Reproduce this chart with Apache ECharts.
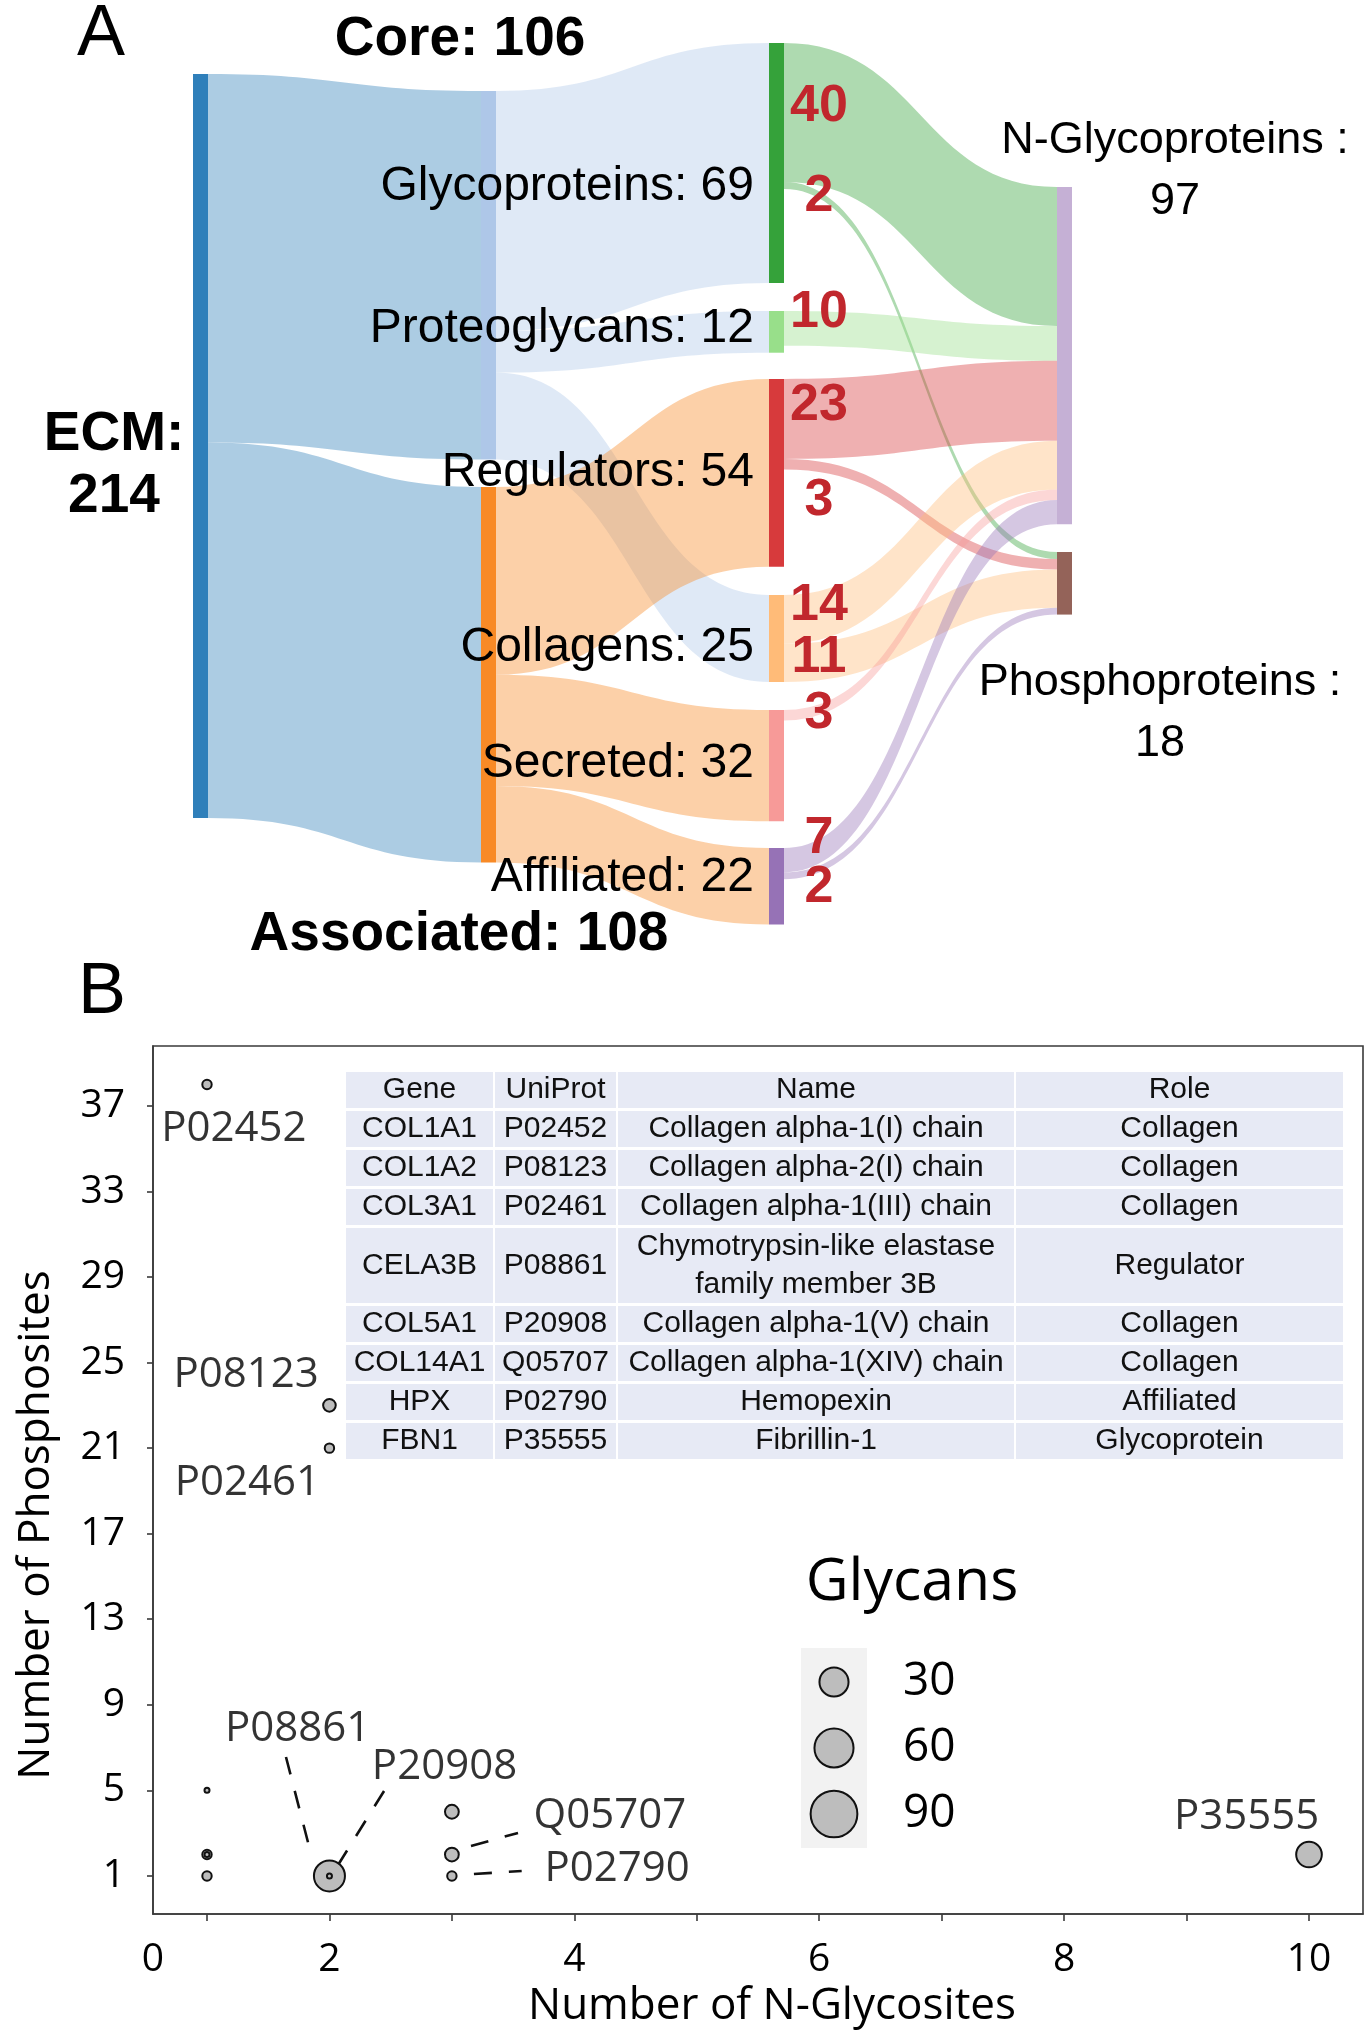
<!DOCTYPE html>
<html><head><meta charset="utf-8">
<script src="https://cdn.jsdelivr.net/npm/echarts@6/dist/echarts.min.js"></script>
<style>html,body{margin:0;padding:0;background:#fff}#c{width:1371px;height:2040px}</style>
</head><body><div id="c"></div>
<script>
// ================= DATA: Panel A (Sankey) =================
const nodeNames  = ['ECM','Core','Associated','Glycoproteins','Proteoglycans','Regulators','Collagens','Secreted','Affiliated','N-Glycoproteins','Phosphoproteins'];
const nodeTotals = [214,106,108,69,12,54,25,32,22,97,18];
const linkSources = ['ECM','ECM','Core','Core','Core','Associated','Associated','Associated',
  'Glycoproteins','Glycoproteins','Proteoglycans','Regulators','Regulators','Collagens','Collagens','Secreted','Affiliated','Affiliated'];
const linkTargets = ['Core','Associated','Glycoproteins','Proteoglycans','Collagens','Regulators','Secreted','Affiliated',
  'N-Glycoproteins','Phosphoproteins','N-Glycoproteins','N-Glycoproteins','Phosphoproteins','N-Glycoproteins','Phosphoproteins','N-Glycoproteins','N-Glycoproteins','Phosphoproteins'];
const linkValues = [106,108,69,12,25,54,32,22,40,2,10,23,3,14,11,3,7,2];

// ================= DATA: Panel B (bubble scatter) =================
const ptNGlycosites = [1,1,1,1,1,2,2,2,2,3,3,3,10];
const ptPhosphosites = [38,5,2,2,1,23,21,1,1,4,2,1,2];
const ptGlycans = [1,0,1,0,1,3,1,35,0,4,4,1,22];
const xTickValues = [1,2,3,4,5,6,7,8,9,10];
const xLabelValues = [0,2,4,6,8,10];
const yTickValues = [1,5,9,13,17,21,25,29,33,37];
const glycanBreaks = [30,60,90];
const labelIds = ['P02452','P08123','P02461','P08861','P20908','Q05707','P02790','P35555'];

// table
const tblHeaders = ['Gene','UniProt','Name','Role'];
const tblGenes = ['COL1A1','COL1A2','COL3A1','CELA3B','COL5A1','COL14A1','HPX','FBN1'];
const tblUniprot = ['P02452','P08123','P02461','P08861','P20908','Q05707','P02790','P35555'];
const tblNames = ['Collagen alpha-1(I) chain','Collagen alpha-2(I) chain','Collagen alpha-1(III) chain',
  'Chymotrypsin-like elastase\nfamily member 3B','Collagen alpha-1(V) chain','Collagen alpha-1(XIV) chain','Hemopexin','Fibrillin-1'];
const tblRoles = ['Collagen','Collagen','Collagen','Regulator','Collagen','Collagen','Affiliated','Glycoprotein'];

// ================= LAYOUT / STYLE =================
const FA = '"Liberation Sans", Arial, sans-serif';
const FB = '"Open Sans", "Noto Sans", sans-serif';
const SK = {left:193, top:43, width:879, height:884, nodeWidth:15, nodeGap:28};
const nodeTopPx = {ECM:74, Core:91, Associated:487, Glycoproteins:43, Proteoglycans:311, Regulators:379,
  Collagens:595, Secreted:710, Affiliated:848, 'N-Glycoproteins':187, Phosphoproteins:552};
const nodeColor = {ECM:'#2f7fba', Core:'#aec7e8', Associated:'#f88a26', Glycoproteins:'#35a23a', Proteoglycans:'#98df8a',
  Regulators:'#d73a3c', Collagens:'#ffbb78', Secreted:'#f79a98', Affiliated:'#9672b6', 'N-Glycoproteins':'#c5b0d5', Phosphoproteins:'#946359'};
const midLabelDy = {Glycoproteins:24, Proteoglycans:-3, Regulators:0, Collagens:9, Secreted:-2, Affiliated:-8};
const numDy = {8:-6, 9:11, 10:-16, 11:-13, 12:36, 13:-14, 14:-5, 15:-2, 16:-22, 17:12};

const GRID = {left:153, top:1046, width:1210, height:868};
const X_MIN = 0.559, X_MAX = 10.441, Y_MIN = -0.78, Y_MAX = 39.8;
const labelPosX = [1.22,1.32,1.33,1.74,2.94,4.29,4.35,9.49];
const labelPosY = [35.92,24.42,19.37,7.87,6.10,3.81,1.33,3.76];
const leaderFrom = [[1.645,6.56],[2.446,4.97],[3.156,2.40],[3.18,1.09]];
const leaderTo   = [[1.858,1.84],[2.045,1.28],[3.54,3.01],[3.57,1.23]];
const TBL = {left:346, top:1072, colW:[147,121,396,327], gap:2, rowUnit:39, rowGap:3, fill:'#e7eaf5'};
const LEG = {titleX:912, titleY:1583, boxX:801, boxY:1648, boxW:66, boxH:200, cx:834, rowY:[1682,1748,1814], textX:903};
const sizeOf = g => 5 + 4.4 * Math.sqrt(g);

function nodeLabel(name, total) {
  const base = {show:true, color:'#000', fontFamily:FA};
  if (name === 'ECM') return {...base, formatter:'ECM:\n' + total, position:[-79,392], align:'center', verticalAlign:'middle', fontSize:55, fontWeight:'bold', lineHeight:62};
  if (name === 'Core') return {...base, formatter:'Core: ' + total, position:[-21,-51], align:'center', verticalAlign:'middle', fontSize:55, fontWeight:'bold'};
  if (name === 'Associated') return {...base, formatter:'Associated: ' + total, position:[-22,448], align:'center', verticalAlign:'middle', fontSize:55, fontWeight:'bold'};
  if (name === 'N-Glycoproteins') return {...base, formatter:name + ' :\n' + total, position:[118,-15.5], align:'center', verticalAlign:'middle', fontSize:45, lineHeight:61};
  if (name === 'Phosphoproteins') return {...base, formatter:name + ' :\n' + total, position:[103,161.5], align:'center', verticalAlign:'middle', fontSize:45, lineHeight:61};
  return {...base, formatter:name + ': ' + total, position:'left', distance:15, offset:[0, midLabelDy[name]], fontSize:48};
}

const sankeyNodes = nodeNames.map((n, i) => ({
  name: n, value: nodeTotals[i],
  localY: (nodeTopPx[n] - SK.top) / SK.height,
  itemStyle: {color: nodeColor[n], borderWidth: 0},
  label: nodeLabel(n, nodeTotals[i])
}));
const sankeyLinks = linkValues.map((v, i) => ({source: linkSources[i], target: linkTargets[i], value: v}));

const chart = echarts.init(document.getElementById('c'), null, {renderer:'canvas', width:1371, height:2040});

const option = {
  backgroundColor:'#fff',
  animation:false,
  grid: {...GRID, show:true, borderColor:'#3a3a3a', borderWidth:1.6, backgroundColor:'transparent'},
  xAxis: {
    type:'value', min:X_MIN, max:X_MAX,
    axisLine:{show:true, onZero:false, lineStyle:{color:'#3a3a3a', width:1.6}},
    axisTick:{show:true, customValues:xTickValues, length:7, lineStyle:{color:'#3a3a3a', width:1.6}},
    axisLabel:{customValues:xLabelValues.map(v => Math.max(v, X_MIN)), formatter: v => (v < 1 ? '0' : String(Math.round(v))),
      fontSize:39, fontFamily:FB, color:'#000', margin:26},
    splitLine:{show:false},
    name:'Number of N-Glycosites', nameLocation:'middle', nameGap:70,
    nameTextStyle:{fontSize:44, fontFamily:FB, color:'#000', padding:[0,0,0,28]}
  },
  yAxis: {
    type:'value', min:Y_MIN, max:Y_MAX,
    axisLine:{show:true, onZero:false, lineStyle:{color:'#3a3a3a', width:1.6}},
    axisTick:{show:true, customValues:yTickValues, length:6, lineStyle:{color:'#3a3a3a', width:1.6}},
    axisLabel:{customValues:yTickValues, fontSize:39, fontFamily:FB, color:'#000', margin:28},
    splitLine:{show:false},
    name:'Number of Phosphosites', nameLocation:'middle', nameGap:95, nameRotate:90,
    nameTextStyle:{fontSize:44, fontFamily:FB, color:'#000', padding:[0,90,0,0]}
  },
  series: [
    {
      type:'sankey', left:SK.left, top:SK.top, width:SK.width, height:SK.height,
      nodeWidth:SK.nodeWidth, nodeGap:SK.nodeGap, layoutIterations:0, draggable:false,
      emphasis:{disabled:true},
      data:sankeyNodes, links:sankeyLinks,
      lineStyle:{color:'source', opacity:0.4, curveness:0.5},
      label:{show:true}
    },
    {
      type:'lines', coordinateSystem:'cartesian2d', z:3, silent:true,
      data: leaderFrom.map((p, i) => ({coords:[p, leaderTo[i]]})),
      lineStyle:{color:'#111', width:2.6, type:[18,17], opacity:1, curveness:0}
    },
    {
      type:'scatter', z:4, silent:true,
      data: ptNGlycosites.map((x, i) => [x, ptPhosphosites[i], ptGlycans[i]]),
      symbolSize: v => sizeOf(v[2]),
      itemStyle:{color:'#bdbdbd', borderColor:'#111', borderWidth:2, opacity:1}
    },
    {
      type:'scatter', z:5, silent:true, symbolSize:0,
      data: labelIds.map((id, i) => ({name:id, value:[labelPosX[i], labelPosY[i]]})),
      label:{show:true, position:'inside', formatter:'{b}', fontSize:42, fontFamily:FB, color:'#000'}
    }
  ]
};
chart.setOption(option);

// ----- graphics: panel letters, link numbers, table, legend -----
const G = [];
G.push({type:'text', x:101, y:35, style:{text:'A', font:'72px ' + FA, fill:'#000', align:'center', verticalAlign:'middle'}});
G.push({type:'text', x:102, y:993, style:{text:'B', font:'72px ' + FA, fill:'#000', align:'center', verticalAlign:'middle'}});

try {
  const graph = chart.getModel().getSeriesByIndex(0).getGraph();
  graph.edges.forEach(edge => {
    const i = edge.dataIndex;
    if (!(i in numDy)) return;
    const n1 = edge.node1, L1 = n1.getLayout(), eL = edge.getLayout();
    const cy = nodeTopPx[n1.id] + eL.sy + eL.dy / 2 + numDy[i];
    const cx = SK.left + L1.x + L1.dx + 35;
    G.push({type:'text', x:cx, y:cy, z:50, style:{text:String(linkValues[i]), font:'bold 52px ' + FA, fill:'#c1272d', align:'center', verticalAlign:'middle'}});
  });
} catch (e) { console.error(e); }

// table
(function () {
  const colX = [];
  let x = TBL.left;
  TBL.colW.forEach(w => { colX.push(x); x += w + TBL.gap; });
  const rows = [tblHeaders].concat(tblGenes.map((g, i) => [g, tblUniprot[i], tblNames[i], tblRoles[i]]));
  let y = TBL.top;
  rows.forEach(r => {
    const span = Math.max(...r.map(t => t.split('\n').length));
    const h = span * TBL.rowUnit - TBL.rowGap;
    r.forEach((t, c) => {
      G.push({type:'rect', shape:{x:colX[c], y:y, width:TBL.colW[c], height:h}, style:{fill:TBL.fill}, z:10});
      G.push({type:'text', x:colX[c] + TBL.colW[c] / 2, y:y + h / 2, z:11,
        style:{text:t, font:'30px ' + FA, fill:'#111', align:'center', verticalAlign:'middle', lineHeight:38}});
    });
    y += span * TBL.rowUnit;
  });
})();

// size legend
G.push({type:'text', x:LEG.titleX, y:LEG.titleY, z:10, style:{text:'Glycans', font:'59px ' + FB, fill:'#000', align:'center', verticalAlign:'middle'}});
G.push({type:'rect', shape:{x:LEG.boxX, y:LEG.boxY, width:LEG.boxW, height:LEG.boxH}, style:{fill:'#f2f2f2'}, z:10});
glycanBreaks.forEach((b, i) => {
  G.push({type:'circle', shape:{cx:LEG.cx, cy:LEG.rowY[i], r:sizeOf(b) / 2}, style:{fill:'#bdbdbd', stroke:'#111', lineWidth:2}, z:11});
  G.push({type:'text', x:LEG.textX, y:LEG.rowY[i], z:11, style:{text:String(b), font:'46px ' + FB, fill:'#000', align:'left', verticalAlign:'middle'}});
});

chart.setOption({graphic: G});
</script>
</body></html>
